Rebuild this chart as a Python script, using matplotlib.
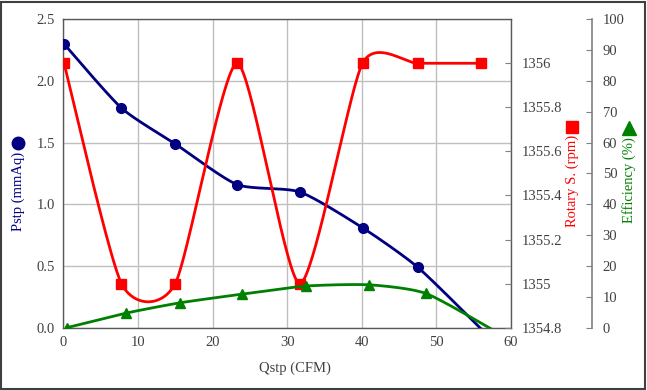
import numpy as np
import matplotlib
matplotlib.use("Agg")
import matplotlib.pyplot as plt
from matplotlib.lines import Line2D
from matplotlib.patches import Rectangle

plt.rcParams['font.family'] = ['Liberation Serif', 'DejaVu Serif']

# datos
qstp = [0.1, 7.8, 15.0, 23.3, 31.7, 40.1, 47.5, 56.0]
pstp = [2.30, 1.78, 1.49, 1.16, 1.10, 0.81, 0.49, -0.01]
rotary = [1356, 1355, 1355, 1356, 1355, 1356, 1356, 1356]
q_eff = [0.45, 8.35, 15.7, 24.0, 32.5, 41.0, 48.6, 57.8]
eff = [0.0, 4.7, 8.1, 10.9, 13.5, 13.9, 11.1, -1.0]

x_ticks = [0, 10, 20, 30, 40, 50, 60]
p_ticks = [0.0, 0.5, 1.0, 1.5, 2.0, 2.5]
r_ticks = [1354.8, 1355.0, 1355.2, 1355.4, 1355.6, 1355.8, 1356.0]
r_labels = ['1354.8', '1355', '1355.2', '1355.4', '1355.6', '1355.8', '1356']
e_ticks = [0, 10, 20, 30, 40, 50, 60, 70, 80, 90, 100]

navy = '#000080'
red = '#ff0000'
green = '#008000'
txt = '#404040'


# curva suavizada tipo Excel (bezier), k = factor de tension
def smooth(x, y, k=0.11, n=40):
    x = np.asarray(x, float)
    y = np.asarray(y, float)
    xs, ys = [], []
    for i in range(len(x) - 1):
        i0 = max(i - 1, 0)
        i3 = min(i + 2, len(x) - 1)
        p0 = np.array([x[i], y[i]])
        p3 = np.array([x[i + 1], y[i + 1]])
        c1 = p0 + (np.array([x[i + 1], y[i + 1]]) - np.array([x[i0], y[i0]])) * k
        c2 = p3 - (np.array([x[i3], y[i3]]) - np.array([x[i], y[i]])) * k
        t = np.linspace(0, 1, n)[:, None]
        b = (1 - t)**3 * p0 + 3 * (1 - t)**2 * t * c1 + 3 * (1 - t) * t**2 * c2 + t**3 * p3
        xs.extend(b[:, 0])
        ys.extend(b[:, 1])
    return np.array(xs), np.array(ys)


fig = plt.figure(figsize=(6.47, 3.90), dpi=100)
ax = fig.add_axes([0.0978, 0.1597, 0.6920, 0.7911])
ax2 = ax.twinx()
ax3 = ax.twinx()

# Pstp
sx, sy = smooth(qstp, pstp)
ax.plot(sx, sy, color=navy, lw=2, zorder=3)
ax.plot(qstp[:-1], pstp[:-1], 'o', color=navy, ms=7, zorder=4)

# Rotary S.
sx, sy = smooth(qstp, rotary)
ax2.plot(sx, sy, color=red, lw=2, zorder=3)
ax2.plot(qstp, rotary, 's', color=red, ms=7.5, zorder=4)

# Efficiency
sx, sy = smooth(q_eff, eff)
ax3.plot(sx, sy, color=green, lw=2, zorder=3)
ax3.plot(q_eff[:-1], eff[:-1], '^', color=green, ms=7.5, zorder=4)

ax.set_xlim(0, 60)
ax.set_ylim(0, 2.5)
ax.set_xticks(x_ticks)
ax.set_yticks(p_ticks)
ax.set_yticklabels(['%.1f' % v for v in p_ticks])
ax.grid(True, color='#bfbfbf', lw=1)
ax.set_axisbelow(True)
ax.tick_params(length=0, labelsize=10.5, labelcolor=txt, pad=6)
for s in ax.spines.values():
    s.set_color('#595959')
    s.set_linewidth(1)

ax2.set_ylim(1354.8, 1356.2)
ax2.set_yticks(r_ticks)
ax2.set_yticklabels(r_labels)
ax2.tick_params(direction='in', length=4, color='#808080', labelsize=10.5, labelcolor=txt, pad=8)
for s in ax2.spines.values():
    s.set_visible(False)

ax3.set_ylim(0, 100)
ax3.set_yticks(e_ticks)
ax3.spines['right'].set_position(('axes', 1.18))
for k in ['top', 'bottom', 'left']:
    ax3.spines[k].set_visible(False)
ax3.spines['right'].set_color('#808080')
ax3.spines['right'].set_linewidth(1.2)
ax3.tick_params(direction='in', length=4, color='#808080', labelsize=10.5, labelcolor=txt, pad=8)

# titulos de ejes
fig.text(0.456, 0.056, 'Qstp (CFM)', ha='center', va='center', fontsize=10.5, color=txt)
fig.text(0.028, 0.509, 'Pstp (mmAq)', ha='center', va='center', rotation=90, fontsize=10.5, color=navy)
fig.text(0.884, 0.536, 'Rotary S. (rpm)', ha='center', va='center', rotation=90, fontsize=10.5, color=red)
fig.text(0.972, 0.538, 'Efficiency (%)', ha='center', va='center', rotation=90, fontsize=10.5, color=green)
fig.add_artist(Line2D([0.028], [0.633], marker='o', color=navy, ms=9, transform=fig.transFigure))
fig.add_artist(Line2D([0.884], [0.674], marker='s', color=red, ms=9, transform=fig.transFigure))
fig.add_artist(Line2D([0.972], [0.672], marker='^', color=green, ms=10, transform=fig.transFigure))

fig.add_artist(Rectangle((0.002, 0.003), 0.995, 0.993, transform=fig.transFigure,
                         fill=False, edgecolor='#404040', lw=1.5))

fig.savefig('out.png', dpi=100)
